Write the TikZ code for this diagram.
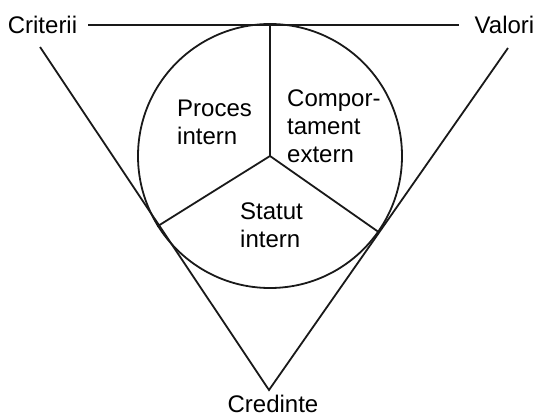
\documentclass[tikz,border=0pt]{standalone}
\usepackage{fontspec}
\setmainfont{Liberation Sans}
\usetikzlibrary{positioning}

\begin{document}
\begin{tikzpicture}[
    x=1pt, y=1pt,
    corner/.style={font=\fontsize{24}{28}\selectfont, inner sep=0pt},
    sector/.style={font=\fontsize{24}{28}\selectfont, align=left, anchor=north west, inner sep=0pt},
    wheel/.style={circle, draw=black!90, line width=1.8pt, minimum size=264pt, inner sep=0pt},
    rim/.style={line width=1.8pt, black!90}
]
\useasboundingbox (0,0) rectangle (537,416);

%=== corner labels ===
\node[corner] (crit) at (42.5,391) {Criterii};
\node[corner] (val)  at (504.5,391) {Valori};
\node[corner] (cred) at (273,12.5) {Credinte};

% ends of the triangle sides
\coordinate (tl)   at (40,369);
\coordinate (tr)   at (508,368);
\coordinate (apex) at (269,26);

%=== triangle ===
\draw[rim] ([xshift=11pt]crit.east) -- ([xshift=-16pt]val.west);
\draw[rim] (tl) -- (apex) -- (tr);

%=== inscribed circle, split in three ===
\node[wheel] (disc) at (270,260) {};
\foreach \a in {90,212,325}
    \draw[rim] (disc.center) -- (disc.\a);

\node[sector] (proc) at (177,316)   {Proces\\intern};
\node[sector] (comp) at (287,326.5) {Compor-\\tament\\extern};
\node[sector] (stat) at (240,213.5) {Statut\\intern};

\end{tikzpicture}
\end{document}
